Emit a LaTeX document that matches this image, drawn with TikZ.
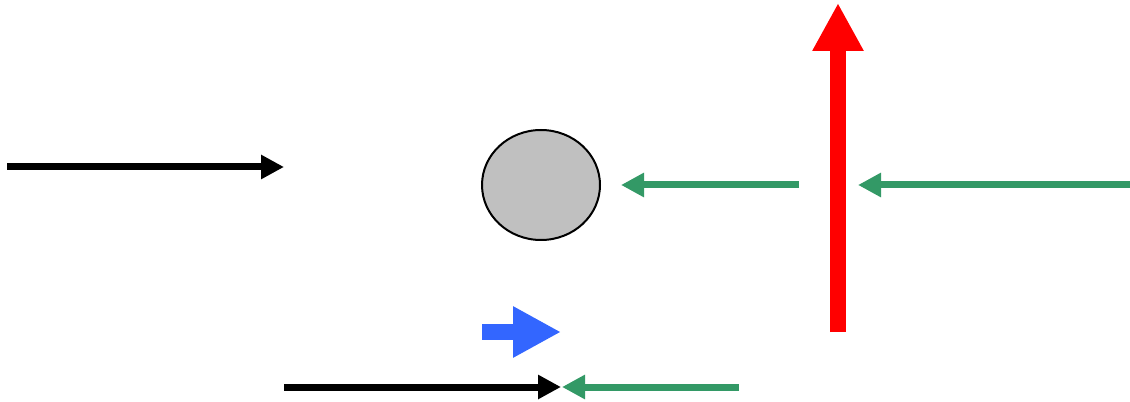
\documentclass[tikz,border=0pt]{standalone}
\usetikzlibrary{arrows.meta,shapes.geometric}
\definecolor{arrgreen}{RGB}{51,153,102}
\definecolor{arrblue}{RGB}{51,102,255}
\definecolor{ballgray}{RGB}{192,192,192}
\tikzset{
  thinarrow/.style={line width=5.25pt,-{Triangle[length=17.25pt,width=17.25pt]}},
  fatarrow/.style={line width=12pt,-{Triangle[length=36pt,width=36pt]}},
  ball/.style={ellipse,draw=black,line width=1.5pt,fill=ballgray,minimum width=88.5pt,minimum height=82.5pt,inner sep=0pt}
}
\begin{document}
\begin{tikzpicture}[x=0.75pt,y=-0.75pt]
\useasboundingbox (0,0) rectangle (1130,402);
\node[ball] (b) at (541,185) {};
% coordinates
\coordinate (a1) at (7,167);
\coordinate (a2) at (284,167);
\coordinate (g1s) at (799,185);
\coordinate (g1e) at (621,185);
\coordinate (g2s) at (1130,185);
\coordinate (g2e) at (858,185);
\coordinate (rs) at (838,332);
\coordinate (re) at (838,3);
\coordinate (bls) at (482,332);
\coordinate (ble) at (561,332);
\coordinate (k2s) at (284,387);
\coordinate (k2e) at (561,387);
\coordinate (g3s) at (739,387);
\coordinate (g3e) at (562,387);
\draw[thinarrow,black] (a1) -- (a2);
\draw[thinarrow,arrgreen] (g1s) -- (g1e);
\draw[thinarrow,arrgreen] (g2s) -- (g2e);
\draw[fatarrow,red] (rs) -- (re);
\draw[fatarrow,arrblue] (bls) -- (ble);
\draw[thinarrow,black] (k2s) -- (k2e);
\draw[thinarrow,arrgreen] (g3s) -- (g3e);
\end{tikzpicture}
\end{document}
